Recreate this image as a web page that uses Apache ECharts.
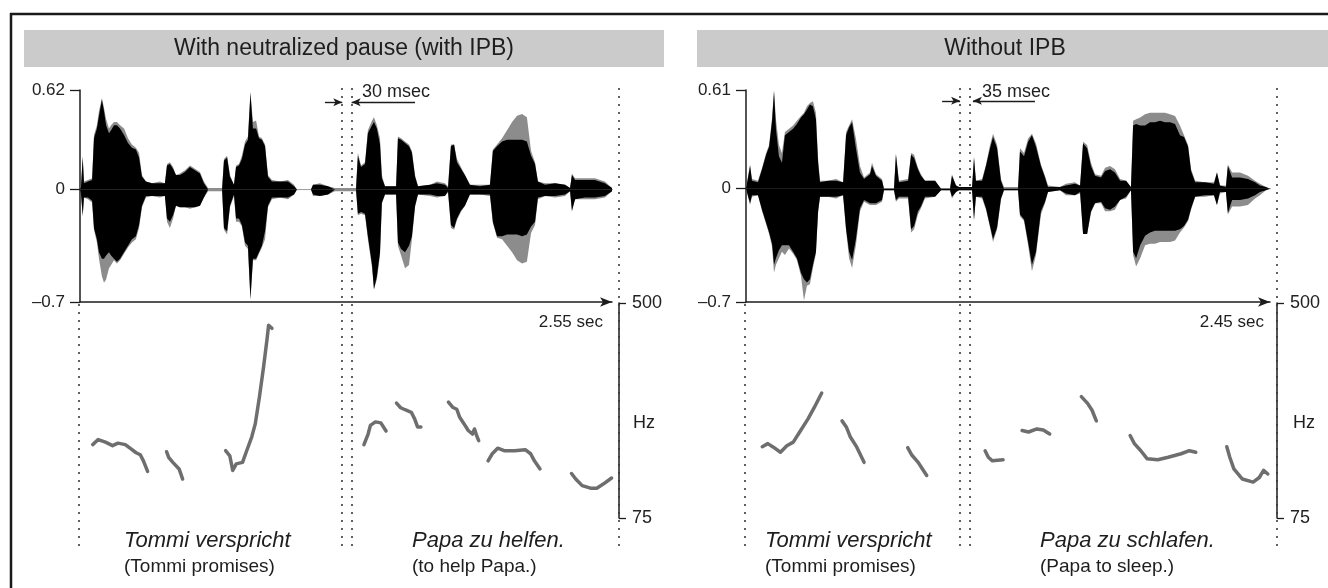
<!DOCTYPE html>
<html><head><meta charset="utf-8">
<script src="https://cdn.jsdelivr.net/npm/echarts/dist/echarts.min.js"></script>
<style>html,body{margin:0;padding:0;background:#fff}#c{width:1328px;height:588px}</style>
</head><body><div id="c"></div>
<script>
// ---------- Panel 1: "With neutralized pause (with IPB)" ----------
const p1Time = [0,0.005,0.013,0.019,0.038,0.058,0.067,0.081,0.091,0.105,0.115,0.125,0.139,0.149,0.163,0.177,0.192,0.211,0.230,0.249,0.268,0.283,0.297,0.316,0.345,0.383,0.407,0.417,0.431,0.446,0.460,0.479,0.503,0.527,0.551,0.575,0.594,0.614,0.681,0.690,0.705,0.719,0.738,0.748,0.762,0.776,0.791,0.805,0.817,0.829,0.844,0.858,0.872,0.887,0.901,0.920,0.959,0.997,1.026,1.040,1.107,1.117,1.150,1.189,1.222,1.323,1.332,1.347,1.366,1.380,1.400,1.409,1.423,1.438,1.447,1.462,1.515,1.524,1.539,1.558,1.577,1.591,1.606,1.620,1.678,1.711,1.749,1.764,1.778,1.793,1.807,1.826,1.845,1.869,1.917,1.965,1.979,1.999,2.023,2.047,2.071,2.095,2.119,2.142,2.162,2.181,2.195,2.229,2.277,2.325,2.349,2.358,2.373,2.420,2.468,2.516,2.550,2.564];
const p1GrayTop = [0,0.03,0.21,0.05,0.06,0.07,0.34,0.40,0.49,0.57,0.51,0.44,0.38,0.40,0.42,0.42,0.40,0.38,0.32,0.28,0.26,0.23,0.09,0.05,0.04,0.05,0.04,0.16,0.17,0.14,0.09,0.10,0.12,0.15,0.13,0.11,0.05,0.01,0.01,0.19,0.21,0.09,0.03,0.15,0.16,0.21,0.30,0.33,0.61,0.42,0.43,0.33,0.32,0.28,0.09,0.06,0.05,0.06,0.03,0,0,0.03,0.04,0.02,0.01,0.01,0.23,0.15,0.17,0.37,0.43,0.45,0.40,0.32,0.09,0.02,0.02,0.33,0.32,0.30,0.28,0.24,0.09,0.02,0.03,0.05,0.04,0.02,0.28,0.28,0.19,0.14,0.09,0.03,0.03,0.03,0.25,0.28,0.32,0.37,0.42,0.46,0.47,0.45,0.24,0.17,0.05,0.04,0.04,0.03,0.01,0.10,0.07,0.07,0.07,0.05,0.01,0];
const p1BlackTop = [0,0.02,0.20,0.04,0.05,0.06,0.32,0.38,0.46,0.56,0.49,0.40,0.35,0.37,0.40,0.40,0.38,0.34,0.29,0.26,0.25,0.20,0.08,0.05,0.04,0.04,0.04,0.15,0.16,0.13,0.09,0.09,0.11,0.14,0.12,0.10,0.04,0,0,0.18,0.20,0.08,0.03,0.14,0.15,0.19,0.28,0.31,0.60,0.38,0.38,0.32,0.31,0.27,0.08,0.05,0.05,0.05,0.02,0,0,0.03,0.03,0.02,0,0,0.21,0.14,0.16,0.35,0.40,0.42,0.38,0.28,0.07,0.02,0.02,0.32,0.31,0.29,0.27,0.23,0.08,0.02,0.03,0.04,0.03,0.01,0.27,0.28,0.17,0.13,0.09,0.03,0.02,0.03,0.24,0.27,0.30,0.31,0.31,0.31,0.31,0.30,0.21,0.16,0.05,0.03,0.04,0.03,0.01,0.09,0.06,0.06,0.06,0.04,0.01,0];
const p1BlackBottom = [0,-0.03,-0.16,-0.05,-0.05,-0.07,-0.24,-0.31,-0.39,-0.43,-0.43,-0.41,-0.39,-0.41,-0.43,-0.45,-0.43,-0.39,-0.35,-0.31,-0.29,-0.22,-0.10,-0.04,-0.04,-0.04,-0.04,-0.18,-0.20,-0.16,-0.10,-0.11,-0.11,-0.11,-0.11,-0.10,-0.05,0,0,-0.24,-0.26,-0.10,-0.03,-0.18,-0.18,-0.22,-0.33,-0.35,-0.68,-0.43,-0.43,-0.39,-0.35,-0.26,-0.10,-0.05,-0.05,-0.05,-0.03,0,0,-0.03,-0.04,-0.03,0,0,-0.15,-0.14,-0.15,-0.29,-0.47,-0.62,-0.54,-0.39,-0.08,-0.03,-0.03,-0.33,-0.37,-0.39,-0.35,-0.29,-0.10,-0.03,-0.03,-0.04,-0.04,-0.01,-0.22,-0.24,-0.18,-0.13,-0.10,-0.03,-0.03,-0.03,-0.20,-0.29,-0.29,-0.28,-0.28,-0.28,-0.29,-0.28,-0.23,-0.20,-0.05,-0.04,-0.04,-0.03,-0.01,-0.13,-0.06,-0.05,-0.05,-0.04,-0.01,0];
const p1GrayBottom = [0,-0.03,-0.17,-0.05,-0.06,-0.08,-0.25,-0.33,-0.43,-0.54,-0.58,-0.56,-0.49,-0.47,-0.44,-0.46,-0.44,-0.40,-0.36,-0.33,-0.31,-0.24,-0.11,-0.05,-0.04,-0.05,-0.04,-0.20,-0.24,-0.18,-0.10,-0.11,-0.11,-0.12,-0.11,-0.10,-0.05,-0.01,-0.01,-0.25,-0.28,-0.11,-0.04,-0.20,-0.20,-0.23,-0.35,-0.37,-0.69,-0.44,-0.44,-0.40,-0.36,-0.31,-0.11,-0.06,-0.05,-0.06,-0.03,0,0,-0.04,-0.04,-0.03,-0.01,-0.01,-0.16,-0.15,-0.16,-0.31,-0.49,-0.62,-0.56,-0.41,-0.09,-0.03,-0.03,-0.35,-0.41,-0.49,-0.47,-0.31,-0.11,-0.03,-0.04,-0.05,-0.04,-0.02,-0.24,-0.25,-0.19,-0.14,-0.10,-0.03,-0.03,-0.04,-0.21,-0.30,-0.31,-0.35,-0.39,-0.44,-0.46,-0.45,-0.27,-0.22,-0.06,-0.04,-0.05,-0.04,-0.01,-0.14,-0.06,-0.06,-0.06,-0.05,-0.01,0];
const p1PitchTime = [0.061,0.087,0.122,0.156,0.182,0.217,0.243,0.269,0.289,0.304,0.324,null,0.415,0.425,0.445,0.475,0.492,null,0.698,0.718,0.732,0.749,0.779,0.799,0.823,0.840,0.860,0.880,0.896,0.904,0.920,null,1.361,1.381,1.392,1.416,1.442,1.467,null,1.517,1.537,1.558,1.588,1.604,1.618,1.634,null,1.766,1.786,1.806,1.820,1.841,1.861,1.881,1.891,1.901,1.911,null,1.956,1.976,2.002,2.033,2.083,2.134,2.160,2.178,2.205,null,2.356,2.376,2.407,2.447,2.477,2.508,2.548];
const p1PitchHz = [220,230,225,218,223,220,212,204,200,188,167,null,206,195,185,172,152,null,208,198,169,182,185,208,235,261,314,374,427,456,450,null,220,241,258,265,263,247,null,302,293,289,284,271,255,255,null,304,294,290,274,261,248,241,251,238,228,null,188,202,213,208,208,210,202,188,172,null,163,152,139,134,134,142,154];
const p1Boundaries = [-0.008, 1.257, 1.302, 2.583];
const p1Pause = [1.174, 1.257, 1.606, 1.302]; // left arrow from..to, right arrow from..to
const p1YTicks = [-0.7, 0, 0.62];

// ---------- Panel 2: "Without IPB" ----------
const p2Time = [0,0.019,0.028,0.056,0.075,0.094,0.108,0.122,0.131,0.140,0.154,0.168,0.182,0.201,0.220,0.238,0.257,0.271,0.285,0.299,0.313,0.327,0.337,0.346,0.383,0.421,0.454,0.468,0.482,0.496,0.514,0.533,0.552,0.580,0.589,0.608,0.636,0.645,0.692,0.701,0.715,0.758,0.772,0.786,0.804,0.818,0.837,0.884,0.912,0.954,0.963,0.982,0.996,1.057,1.066,1.075,1.104,1.122,1.141,1.155,1.174,1.192,1.206,1.272,1.281,1.300,1.319,1.337,1.356,1.379,1.398,1.412,1.468,1.496,1.538,1.562,1.576,1.595,1.613,1.632,1.660,1.679,1.702,1.725,1.749,1.777,1.800,1.810,1.824,1.843,1.866,1.889,1.912,1.936,1.959,1.983,2.006,2.029,2.048,2.067,2.081,2.100,2.146,2.188,2.202,2.216,2.244,2.253,2.273,2.310,2.347,2.380,2.403,2.431,2.450];
const p2GrayTop = [0,0.15,0.06,0.05,0.13,0.22,0.27,0.44,0.61,0.43,0.27,0.22,0.35,0.37,0.39,0.42,0.45,0.47,0.51,0.53,0.54,0.47,0.19,0.05,0.05,0.06,0.04,0.35,0.39,0.43,0.31,0.14,0.07,0.10,0.16,0.09,0.06,0.00,0.00,0.22,0.05,0.06,0.22,0.21,0.13,0.09,0.05,0.05,0.00,0.00,0.09,0.02,0.01,0.01,0.20,0.05,0.06,0.15,0.27,0.34,0.27,0.06,0.01,0.01,0.25,0.22,0.31,0.34,0.28,0.15,0.08,0.02,0.01,0.03,0.04,0.02,0.29,0.27,0.16,0.09,0.08,0.13,0.14,0.12,0.06,0.05,0.01,0.42,0.43,0.44,0.46,0.47,0.47,0.47,0.47,0.46,0.45,0.39,0.33,0.27,0.12,0.05,0.04,0.04,0.10,0.02,0.02,0.15,0.10,0.10,0.08,0.05,0.03,0.01,0];
const p2BlackTop = [0,0.14,0.05,0.04,0.12,0.21,0.26,0.42,0.60,0.37,0.20,0.16,0.33,0.35,0.37,0.40,0.44,0.46,0.49,0.52,0.51,0.43,0.16,0.04,0.05,0.05,0.04,0.33,0.38,0.41,0.25,0.10,0.06,0.09,0.14,0.08,0.05,0.00,0.00,0.21,0.04,0.05,0.21,0.19,0.12,0.08,0.05,0.05,0.00,0.00,0.08,0.02,0.01,0.01,0.19,0.05,0.05,0.14,0.25,0.32,0.25,0.05,0.00,0.00,0.23,0.20,0.29,0.33,0.26,0.14,0.07,0.01,0.01,0.02,0.03,0.02,0.28,0.25,0.14,0.08,0.07,0.11,0.12,0.10,0.05,0.05,0.01,0.39,0.40,0.39,0.39,0.41,0.41,0.42,0.41,0.41,0.40,0.33,0.32,0.26,0.11,0.04,0.04,0.03,0.10,0.02,0.01,0.14,0.07,0.07,0.06,0.04,0.02,0.01,0];
const p2BlackBottom = [0,-0.09,-0.04,-0.04,-0.13,-0.21,-0.27,-0.34,-0.47,-0.43,-0.38,-0.35,-0.35,-0.35,-0.39,-0.43,-0.52,-0.56,-0.58,-0.56,-0.47,-0.39,-0.14,-0.05,-0.05,-0.05,-0.04,-0.25,-0.39,-0.44,-0.31,-0.12,-0.07,-0.09,-0.09,-0.09,-0.07,-0.01,-0.01,-0.07,-0.05,-0.05,-0.25,-0.23,-0.14,-0.11,-0.05,-0.05,-0.01,-0.01,-0.05,-0.02,-0.01,-0.01,-0.19,-0.05,-0.05,-0.12,-0.23,-0.31,-0.24,-0.06,-0.01,-0.01,-0.16,-0.19,-0.33,-0.47,-0.39,-0.14,-0.08,-0.02,-0.01,-0.03,-0.04,-0.02,-0.28,-0.28,-0.14,-0.09,-0.08,-0.12,-0.13,-0.11,-0.07,-0.05,-0.01,-0.39,-0.43,-0.35,-0.29,-0.27,-0.26,-0.26,-0.26,-0.26,-0.26,-0.25,-0.23,-0.19,-0.12,-0.05,-0.04,-0.04,-0.10,-0.02,-0.02,-0.15,-0.07,-0.07,-0.06,-0.04,-0.02,-0.01,0];
const p2GrayBottom = [0,-0.10,-0.05,-0.04,-0.14,-0.22,-0.28,-0.36,-0.52,-0.47,-0.43,-0.39,-0.41,-0.37,-0.40,-0.44,-0.54,-0.69,-0.60,-0.59,-0.49,-0.40,-0.15,-0.05,-0.05,-0.06,-0.04,-0.26,-0.43,-0.49,-0.35,-0.14,-0.08,-0.10,-0.10,-0.10,-0.08,-0.01,-0.01,-0.08,-0.06,-0.06,-0.27,-0.25,-0.16,-0.12,-0.06,-0.05,-0.01,-0.01,-0.06,-0.02,-0.01,-0.01,-0.20,-0.05,-0.06,-0.13,-0.24,-0.33,-0.25,-0.07,-0.01,-0.01,-0.17,-0.20,-0.35,-0.51,-0.41,-0.16,-0.09,-0.02,-0.01,-0.04,-0.04,-0.03,-0.28,-0.28,-0.15,-0.09,-0.09,-0.14,-0.14,-0.13,-0.07,-0.06,-0.01,-0.41,-0.48,-0.43,-0.35,-0.34,-0.34,-0.33,-0.33,-0.33,-0.32,-0.27,-0.24,-0.20,-0.13,-0.05,-0.05,-0.04,-0.10,-0.03,-0.02,-0.16,-0.11,-0.11,-0.10,-0.06,-0.04,-0.01,0];
const p2PitchTime = [0.076,0.102,0.128,0.161,0.191,0.221,0.251,0.290,0.320,0.354,null,0.449,0.469,0.488,0.518,0.552,null,0.756,0.776,0.805,0.825,0.845,null,1.118,1.133,1.152,1.202,null,1.291,1.321,1.360,1.390,1.420,null,1.568,1.598,1.618,1.638,null,1.796,1.816,1.846,1.876,1.925,1.974,2.034,2.073,2.103,null,2.248,2.262,2.281,2.321,2.371,2.400,2.420,2.440];
const p2PitchHz = [216,222,215,205,218,225,245,271,294,322,null,267,255,235,215,185,null,214,199,185,172,159,null,208,195,188,190,null,248,245,251,249,241,null,315,301,288,267,null,238,222,208,192,190,195,202,208,205,null,216,195,172,152,146,155,169,162];
const p2Boundaries = [-0.005, 1.001, 1.044, 2.483];
const p2Pause = [0.917, 1.001, 1.351, 1.061];
const p2YTicks = [-0.7, 0, 0.61];

const pitchTicks = [75, 500];

// ---------- texts ----------
const titles = ['With neutralized pause (with IPB)', 'Without IPB'];
const durations = ['2.55 sec', '2.45 sec'];
const pauses = ['30 msec', '35 msec'];
const phrases = [['Tommi verspricht', '(Tommi promises)', 'Papa zu helfen.', '(to help Papa.)'],
                 ['Tommi verspricht', '(Tommi promises)', 'Papa zu schlafen.', '(Papa to sleep.)']];

// ---------- build ----------
const FONT = '"Liberation Sans", Arial, Helvetica, sans-serif';
const INK = '#1c1c1c';
const GRAYW = '#8c8c8c';
const PITCH = '#6e6e6e';
function pairs(t, v) { return t.map((x, i) => [x, v[i]]); }

const grids = [], xAxes = [], yAxes = [], series = [];

function addPanel(c) {
  const S = (c.xEnd - c.left) / c.tMax;
  const gi = grids.length;
  // waveform grid
  grids.push({left: c.left, top: 90, width: c.xEnd - c.left, height: 212});
  xAxes.push({type: 'value', gridIndex: gi, min: 0, max: c.tMax,
    axisLine: {show: true, onZero: false, symbol: ['none', 'arrow'], symbolSize: [7, 12], lineStyle: {color: INK, width: 1.5}},
    axisTick: {show: false}, axisLabel: {show: false}, splitLine: {show: false}});
  yAxes.push({type: 'value', gridIndex: gi, min: -0.7, max: c.yTicks[2],
    axisLine: {show: true, onZero: false, lineStyle: {color: INK, width: 1.5}},
    axisTick: {show: true, length: 10, customValues: c.yTicks, lineStyle: {color: INK, width: 1.3}},
    axisLabel: {show: true, customValues: c.yTicks, margin: 15, fontSize: 17, color: '#222', fontFamily: FONT,
      formatter: v => v < 0 ? '\u2013' + Math.abs(v) : String(v)},
    splitLine: {show: false}});
  // pitch grid
  const pi = gi + 1;
  grids.push({left: c.left, top: 303, width: c.axisR - c.left, height: 215});
  xAxes.push({type: 'value', gridIndex: pi, min: 0, max: (c.axisR - c.left) / S, show: false, splitLine: {show: false}});
  yAxes.push({type: 'value', gridIndex: pi, position: 'right', min: 75, max: 500,
    axisLine: {show: true, onZero: false, lineStyle: {color: INK, width: 1.5}},
    axisTick: {show: true, length: 7, customValues: pitchTicks, lineStyle: {color: INK, width: 1.3}},
    axisLabel: {show: true, customValues: pitchTicks, margin: 13, fontSize: 18, color: '#222', fontFamily: FONT},
    splitLine: {show: false}});
  // overlay grid (boundaries & pause arrows)
  const oi = gi + 2;
  grids.push({left: c.left - 0.1 * S, top: 88, width: 2.8 * S, height: 458});
  xAxes.push({type: 'value', gridIndex: oi, min: -0.1, max: 2.7, show: false, splitLine: {show: false}});
  yAxes.push({type: 'value', gridIndex: oi, min: 0, max: 1, show: false, splitLine: {show: false}});

  const base = {type: 'line', xAxisIndex: gi, yAxisIndex: gi, symbol: 'none', showSymbol: false,
    clip: false, silent: true, animation: false, lineStyle: {width: 0}};
  series.push({...base, z: 1, data: [[0, 0], [c.zeroEnd, 0]], lineStyle: {color: '#999', width: 1}});
  series.push({...base, z: 2, data: pairs(c.t, c.gT), areaStyle: {color: GRAYW, opacity: 1}});
  series.push({...base, z: 2, data: pairs(c.t, c.gB), areaStyle: {color: GRAYW, opacity: 1}});
  series.push({...base, z: 3, data: pairs(c.t, c.bT), areaStyle: {color: '#000', opacity: 1}});
  series.push({...base, z: 3, data: pairs(c.t, c.bB), areaStyle: {color: '#000', opacity: 1}});
  // pitch
  series.push({type: 'line', xAxisIndex: pi, yAxisIndex: pi, symbol: 'none', showSymbol: false, silent: true,
    animation: false, connectNulls: false, z: 4,
    data: c.pt.map((t, i) => [t, c.ph[i]]),
    lineStyle: {color: PITCH, width: 3.5, cap: 'round', join: 'round'}});
  // dotted boundaries
  const dots = c.bounds.map((t, i) => [{coord: [t, 0]}, {coord: [t, i === 0 ? 0.531 : 1]}]);
  series.push({type: 'line', xAxisIndex: oi, yAxisIndex: oi, data: [[0, 0]], symbol: 'none', silent: true, animation: false,
    lineStyle: {width: 0}, z: 5,
    markLine: {silent: true, animation: false, symbol: 'none', label: {show: false},
      lineStyle: {type: [2, 6], color: '#3a3a3a', width: 1.6}, data: dots}});
  // pause arrows
  const ay = c.arrowY;
  series.push({type: 'line', xAxisIndex: oi, yAxisIndex: oi, data: [[0, 0]], symbol: 'none', silent: true, animation: false,
    lineStyle: {width: 0}, z: 6,
    markLine: {silent: true, animation: false, label: {show: false},
      lineStyle: {type: 'solid', color: INK, width: 1.4},
      data: [
        [{coord: [c.pause[0], ay], symbol: 'none'}, {coord: [c.pause[1], ay], symbol: 'arrow', symbolSize: [6, 9]}],
        [{coord: [c.pause[2], ay], symbol: 'none'}, {coord: [c.pause[3], ay], symbol: 'arrow', symbolSize: [6, 9]}]
      ]}});
}

addPanel({left: 80, xEnd: 612, axisR: 619, tMax: 2.55, yTicks: p1YTicks, zeroEnd: 2.636,
  t: p1Time, gT: p1GrayTop, bT: p1BlackTop, bB: p1BlackBottom, gB: p1GrayBottom,
  pt: p1PitchTime, ph: p1PitchHz, bounds: p1Boundaries, pause: p1Pause, arrowY: 0.969});
addPanel({left: 746, xEnd: 1270, axisR: 1277, tMax: 2.45, yTicks: p2YTicks, zeroEnd: 2.6,
  t: p2Time, gT: p2GrayTop, bT: p2BlackTop, bB: p2BlackBottom, gB: p2GrayBottom,
  pt: p2PitchTime, ph: p2PitchHz, bounds: p2Boundaries, pause: p2Pause, arrowY: 0.972});

function txt(x, y, s, font, align) {
  return {type: 'text', x: x, y: y, silent: true, z: 10,
    style: {text: s, font: font, fill: '#1e1e1e', textAlign: align || 'left', textVerticalAlign: 'middle'}};
}
const graphic = [
  {type: 'rect', shape: {x: 24, y: 30, width: 640, height: 37}, style: {fill: '#cbcbcb'}, silent: true},
  {type: 'rect', shape: {x: 697, y: 30, width: 631, height: 37}, style: {fill: '#cbcbcb'}, silent: true},
  {type: 'line', shape: {x1: 10, y1: 14, x2: 1328, y2: 14}, style: {stroke: '#1a1a1a', lineWidth: 2.5}, silent: true},
  {type: 'line', shape: {x1: 11, y1: 13, x2: 11, y2: 588}, style: {stroke: '#1a1a1a', lineWidth: 2.5}, silent: true},
  txt(344, 49, titles[0], '23px ' + FONT, 'center'),
  txt(1005, 49, titles[1], '23px ' + FONT, 'center'),
  txt(603, 322, durations[0], '17px ' + FONT, 'right'),
  txt(1264, 322, durations[1], '17px ' + FONT, 'right'),
  txt(362, 92, pauses[0], '18px ' + FONT),
  txt(982, 92, pauses[1], '18px ' + FONT),
  txt(633, 423, 'Hz', '18px ' + FONT),
  txt(1293, 423, 'Hz', '18px ' + FONT),
  txt(124, 541, phrases[0][0], 'italic 22px ' + FONT),
  txt(124, 567, phrases[0][1], '19px ' + FONT),
  txt(412, 541, phrases[0][2], 'italic 22px ' + FONT),
  txt(412, 567, phrases[0][3], '19px ' + FONT),
  txt(765, 541, phrases[1][0], 'italic 22px ' + FONT),
  txt(765, 567, phrases[1][1], '19px ' + FONT),
  txt(1040, 541, phrases[1][2], 'italic 22px ' + FONT),
  txt(1040, 567, phrases[1][3], '19px ' + FONT)
];

const chart = echarts.init(document.getElementById('c'), null, {renderer: 'canvas'});
chart.setOption({
  backgroundColor: '#ffffff',
  animation: false,
  grid: grids, xAxis: xAxes, yAxis: yAxes, series: series, graphic: graphic
});
</script></body></html>
